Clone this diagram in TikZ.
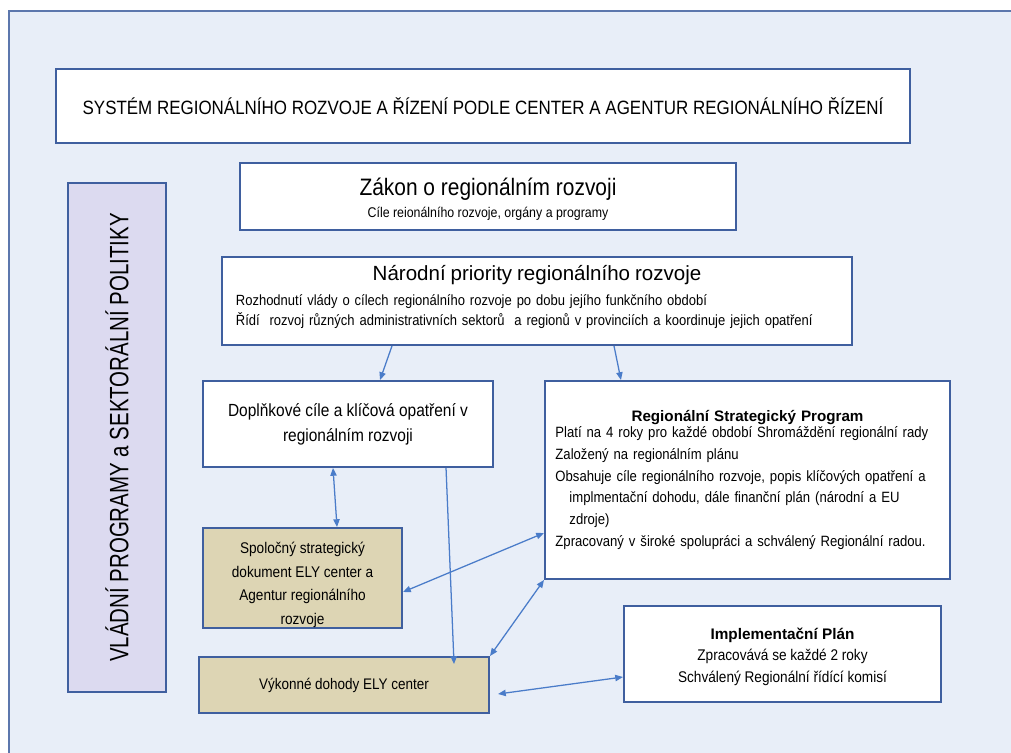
\documentclass[tikz,border=0pt]{standalone}
\usepackage{fontspec}
\setmainfont{Liberation Sans}
\newfontfamily\narrowfont[FakeStretch=0.88]{Liberation Sans}
\newfontfamily\vertfont[FakeStretch=0.77]{Liberation Sans}
\usetikzlibrary{arrows.meta}
\definecolor{bgblue}{HTML}{E8EEF8}
\definecolor{frameblue}{HTML}{3F5F9F}
\definecolor{arrowblue}{HTML}{4A7CC9}
\definecolor{lavender}{HTML}{DCDAF0}
\definecolor{tanfill}{HTML}{DDD5B4}

\begin{document}
\begin{tikzpicture} [x=0.025cm, y=-0.025cm,
	box/.style={draw=frameblue, line width=1.4pt, fill=white, inner sep=0pt},
	tanbox/.style={box, fill=tanfill},
	link/.style={draw=arrowblue, line width=0.9pt, -{Triangle[length=5.5pt,width=4.5pt]}},
	twoway/.style={link, {Triangle[length=5.5pt,width=4.5pt]}-{Triangle[length=5.5pt,width=4.5pt]}}]
	\useasboundingbox (0,0) rectangle (1011,753);
	\clip (0,0) rectangle (1011,753);
	\fill[white] (0,0) rectangle (1011,753);
	\draw[draw=frameblue!85, line width=1.2pt, fill=bgblue] (9,11) rectangle (1030,770);

	\node[box, minimum width=21.35cm, minimum height=1.85cm, font=\narrowfont\fontsize{13.7}{16}\selectfont] (system) at (483,106) {SYSTÉM REGIONÁLNÍHO ROZVOJE A ŘÍZENÍ PODLE CENTER A AGENTUR REGIONÁLNÍHO ŘÍZENÍ};
	\node[box, fill=lavender, rotate=90, minimum width=12.725cm, minimum height=2.45cm, font=\vertfont\fontsize{18.9}{22}\selectfont] (vlada) at (117,437.5) {VLÁDNÍ PROGRAMY a SEKTORÁLNÍ POLITIKY};

	\node[box, minimum width=12.4cm, minimum height=1.675cm, text height=32pt, align=center, font=\narrowfont\fontsize{10}{15.5}\selectfont] (zakon) at (488,196.5) {{\fontsize{16.9}{20}\selectfont Zákon o regionálním rozvoji}\\Cíle reionálního rozvoje, orgány a programy};
	\node[box, minimum width=15.75cm, minimum height=2.2cm] (narodni) at (537,301) {};
	\node[anchor=north, text width=15.05cm, align=left, inner sep=0pt, font=\narrowfont\fontsize{10.5}{14.2}\selectfont] (narodnitext) at ([yshift=-0.22cm]narodni.north) {{\centering\normalfont\fontsize{14.6}{18}\selectfont Národní priority regionálního rozvoje\par}\vspace{4pt}
		Rozhodnutí vlády o cílech regionálního rozvoje po dobu jejího funkčního období\\
		Řídí~ rozvoj různých administrativních sektorů~ a regionů v provinciích a koordinuje jejich opatření};

	\node[box, minimum width=7.25cm, minimum height=2.15cm, align=center, font=\narrowfont\fontsize{12.5}{17.8}\selectfont] (doplnkove) at (348,424) {Doplňkové cíle a klíčová opatření v\\regionálním rozvoji};
	\node[tanbox, minimum width=4.975cm, minimum height=2.5cm, text height=68pt, align=center, font=\narrowfont\fontsize{11}{16.7}\selectfont] (spolocny) at (302.5,578) {Spoločný strategický\\dokument ELY center a\\Agentur regionálního\\rozvoje};
	\node[tanbox, minimum width=7.25cm, minimum height=1.4cm, font=\narrowfont\fontsize{10.9}{13}\selectfont] (vykonne) at (344,685) {Výkonné dohody ELY center};

	\node[box, minimum width=10.125cm, minimum height=4.95cm, text width=9.6cm, align=left, font=\narrowfont\fontsize{10.6}{15.4}\selectfont] (rsp) at (747.5,480) {{\centering\normalfont\bfseries\fontsize{10.8}{15.4}\selectfont Regionální Strategický Program\par}\vspace{-4pt}
		Platí na 4 roky pro každé období Shromáždění regionální rady\\
		Založený na regionálním plánu\\
		Obsahuje cíle regionálního rozvoje, popis klíčových opatření a\\
		\hspace*{0.35cm}implmentační dohodu, dále finanční plán (národní a EU\\
		\hspace*{0.35cm}zdroje)\\
		Zpracovaný v široké spolupráci a schválený Regionální radou.};
	\node[box, minimum width=7.925cm, minimum height=2.4cm, text height=43pt, align=center, font=\narrowfont\fontsize{11}{15.5}\selectfont] (implementacni) at (782.5,654) {{\normalfont\bfseries\fontsize{10.9}{15.5}\selectfont Implementační Plán}\\Zpracovává se každé 2 roky\\Schválený Regionální řídící komisí};

	\draw[link] ([xshift=-3.625cm]narodni.south) -- ([xshift=0.8cm]doplnkove.north);
	\draw[link] ([xshift=1.925cm]narodni.south) -- ([xshift=-3.1625cm]rsp.north);
	\draw[twoway] ([xshift=-0.375cm]doplnkove.south) -- ([xshift=0.8625cm]spolocny.north);
	\draw[link] ([xshift=2.45cm]doplnkove.south) -- ([xshift=2.75cm,yshift=-0.2cm]vykonne.north);
	\draw[twoway] ([yshift=-0.35cm]spolocny.east) -- ([yshift=-1.325cm]rsp.west);
	\draw[twoway] (vykonne.north east) -- (rsp.south west);
	\draw[twoway] ([xshift=0.2cm,yshift=-0.225cm]vykonne.east) -- ([yshift=-0.575cm]implementacni.west);
\end{tikzpicture}
\end{document}
